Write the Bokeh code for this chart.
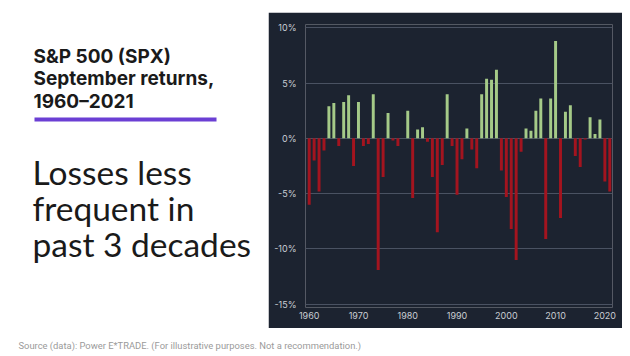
from bokeh.plotting import figure
from bokeh.models import Range1d, FixedTicker, PrintfTickFormatter, ColumnDataSource, Spacer
from bokeh.layouts import row, column
from bokeh.embed import file_html
from bokeh.resources import INLINE
from bokeh.core.properties import value

# ---------------- data ----------------
years = list(range(1960, 2022))
returns = [
    -6.0, -2.0, -4.8, -1.1, 2.9, 3.2, -0.7, 3.3, 3.9, -2.5,    # 1960s
    3.3, -0.7, -0.5, 4.0, -11.9, -3.5, 2.3, -0.2, -0.7, 0.0,   # 1970s
    2.5, -5.4, 0.8, 1.0, -0.3, -3.5, -8.5, -2.4, 4.0, -0.7,    # 1980s
    -5.1, -1.9, 0.9, -1.0, -2.7, 4.0, 5.4, 5.3, 6.2, -2.9,     # 1990s
    -5.3, -8.2, -11.0, -1.2, 0.9, 0.7, 2.5, 3.6, -9.1, 3.6,    # 2000s
    8.8, -7.2, 2.4, 3.0, -1.6, -2.6, -0.1, 1.9, 0.4, 1.7,      # 2010s
    -3.9, -4.8,                                                # 2020s
]
y_ticks = [-15, -10, -5, 0, 5, 10]
x_ticks = [1960, 1970, 1980, 1990, 2000, 2010, 2020]
title_lines = ["S&P 500 (SPX)", "September returns,", "1960\u20132021"]
headline_lines = ["Losses less", "frequent in", "past 3 decades"]
source_note = "Source (data): Power E*TRADE. (For illustrative purposes. Not a recommendation.)"

# ---------------- styles ----------------
BG = "#1c2330"
GREEN = "#a5ca88"
RED = "#a3141f"
GRID = "#4a5262"
LABEL = "#c9cdd3"
INK = "#1a1a1a"


def blank(w, h):
    p = figure(width=w, height=h, x_range=Range1d(0, w), y_range=Range1d(h, 0),
               output_backend="svg", toolbar_location=None,
               x_axis_location=None, y_axis_location=None,
               min_border=0, min_border_left=0, min_border_right=0,
               min_border_top=0, min_border_bottom=0)
    p.grid.visible = False
    p.outline_line_color = None
    p.background_fill_color = "white"
    p.border_fill_color = "white"
    return p


# ---------------- left text panel ----------------
left = blank(268, 328)
left.text(x=[33] * 3, y=[56, 78, 101], text=title_lines,
          text_font=value("Inter"), text_font_style="bold",
          text_font_size="19px", text_baseline="middle", text_color=INK)
left.quad(left=[34], right=[216], top=[117], bottom=[121],
          fill_color="#6b3fd4", line_color=None)
left.text(x=[32] * 3, y=[171, 207, 243], text=headline_lines,
          text_font=value("Lato"), text_font_size="33.5px",
          text_baseline="middle", text_color=INK)

# ---------------- chart ----------------
colors = [GREEN if r >= 0 else RED for r in returns]
src = ColumnDataSource(dict(year=years, ret=returns, color=colors))

chart = figure(width=354, height=316,
               x_range=Range1d(1959.25, 2021.55), y_range=Range1d(-15.3, 10.3),
               output_backend="svg", toolbar_location=None,
               min_border_left=37, min_border_right=10,
               min_border_top=12, min_border_bottom=21)
chart.background_fill_color = BG
chart.border_fill_color = BG
chart.outline_line_color = None

chart.vbar(x="year", top="ret", bottom=0, width=0.6, source=src,
           fill_color="color", line_color=None)

chart.xgrid.visible = False
chart.ygrid.ticker = FixedTicker(ticks=y_ticks)
chart.ygrid.grid_line_color = GRID
chart.ygrid.grid_line_width = 1
chart.ygrid.level = "underlay"

chart.yaxis.ticker = FixedTicker(ticks=y_ticks)
chart.yaxis.formatter = PrintfTickFormatter(format="%d%%")
chart.xaxis.ticker = FixedTicker(ticks=x_ticks)
for ax in (chart.xaxis, chart.yaxis):
    ax.axis_line_color = None
    ax.major_tick_line_color = None
    ax.minor_tick_line_color = None
    ax.major_tick_out = 0
    ax.major_tick_in = 0
    ax.major_label_text_color = LABEL
    ax.major_label_text_font = "Inter"
    ax.major_label_text_font_size = "9px"
chart.yaxis.major_label_standoff = 9
chart.xaxis.major_label_standoff = 4

right = column(Spacer(width=354, height=12), chart)

# ---------------- footer ----------------
footer = blank(630, 28)
footer.text(x=[18], y=[17], text=[source_note], text_font=value("Roboto"),
            text_font_size="9.4px", text_baseline="middle", text_color="#9a9a9a")

layout = column(row(left, right), footer)

open("out.html", "w").write(file_html(layout, INLINE))
